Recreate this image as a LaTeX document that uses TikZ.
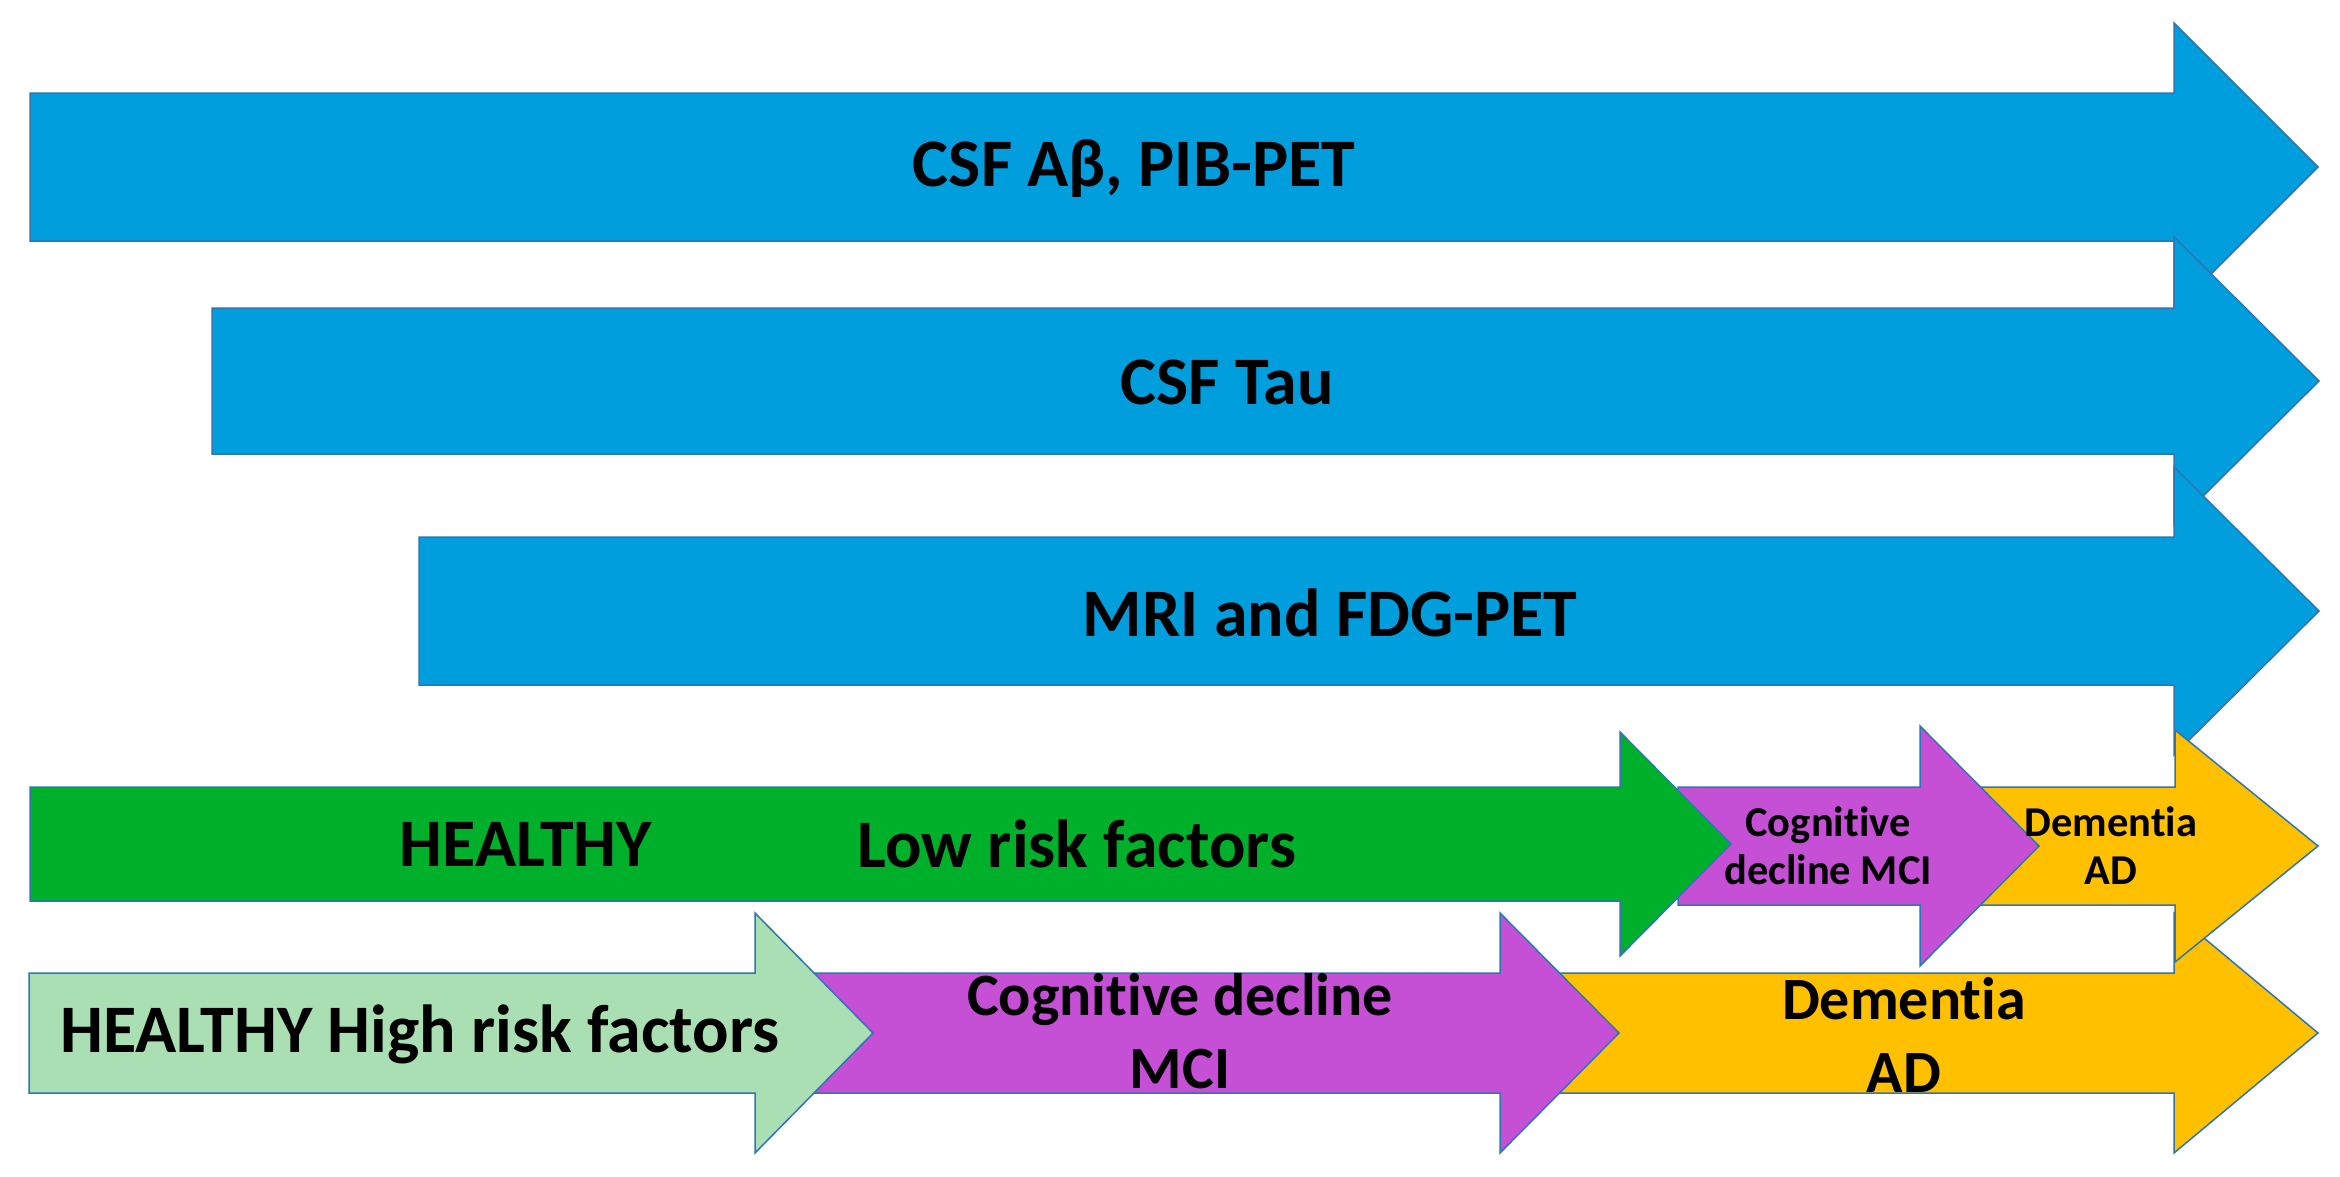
\documentclass[tikz,border=0pt]{standalone}
\usepackage{fontspec}
\setmainfont{Carlito}[Ligatures=NoCommon]
\definecolor{cblue}{RGB}{0,158,221}
\definecolor{cgreen}{RGB}{0,176,42}
\definecolor{clgreen}{RGB}{170,223,180}
\definecolor{cpurple}{RGB}{197,80,214}
\definecolor{cyellow}{RGB}{255,192,0}
\definecolor{cedge}{RGB}{46,117,182}
\tikzset{
  shp/.style={draw=cedge, line width=1.5pt, line join=miter},
  lbl/.style={font=\bfseries\fontsize{68}{80}\selectfont, align=center, inner sep=0pt, text=black},
  lblm/.style={font=\bfseries\fontsize{60}{73}\selectfont, align=center, inner sep=0pt, text=black},
  lbls/.style={font=\bfseries\fontsize{42.5}{48}\selectfont, align=center, inner sep=0pt, text=black}
}
% #1 style, #2 body left, #3 head start, #4 tip, #5 centre y, #6 body half height, #7 head half height
\newcommand{\shparrow}[7]{%
  \draw[shp,#1] (#2,#5-#6) -- (#3,#5-#6) -- (#3,#5-#7) -- (#4,#5)
    -- (#3,#5+#7) -- (#3,#5+#6) -- (#2,#5+#6) -- cycle;}
\begin{document}
\begin{tikzpicture}[x=1pt,y=-1pt]
\useasboundingbox[fill=white] (0,0) rectangle (2340,1176);
% blue biomarker arrows
\shparrow{fill=cblue}{30}{2174}{2318}{167}{74}{144}
\shparrow{fill=cblue}{212}{2174}{2319}{381}{73}{144}
\shparrow{fill=cblue}{419}{2174}{2319}{611}{74}{144}
\node[lbl] (csfab) at (1134,169) {CSF Aβ, PIB-PET};
\node[lbl] (csftau) at (1227,382) {CSF Tau};
\node[lbl] (mri) at (1330,613) {MRI and FDG-PET};
% bottom row: high risk
\shparrow{fill=cyellow}{1560}{2174}{2318}{1033}{60}{120}
\shparrow{fill=cpurple}{812}{1500}{1619}{1033}{60}{120}
\shparrow{fill=clgreen}{29}{755}{873}{1033}{60}{120}
\node[lbl] (hhigh) at (420,1034) {HEALTHY High risk factors};
\node[lblm] (cogb) at (1180,1031) {Cognitive decline\\MCI};
\node[lblm] (demb) at (1904,1035) {Dementia\\AD};
% row 4: low risk
\shparrow{fill=cyellow}{1975}{2175}{2318}{846}{59}{116}
\shparrow{fill=cpurple}{1678}{1920}{2039}{846}{59}{120}
\shparrow{fill=cgreen}{30}{1620}{1731}{844}{57}{112}
\node[lbl] (hlow) at (526,844) {HEALTHY};
\node[lbl] (low) at (1077,844) {Low risk factors};
\node[lbls] (cogs) at (1828,846) {Cognitive\\decline MCI};
\node[lbls] (dems) at (2111,846) {Dementia\\AD};
\end{tikzpicture}
\end{document}
